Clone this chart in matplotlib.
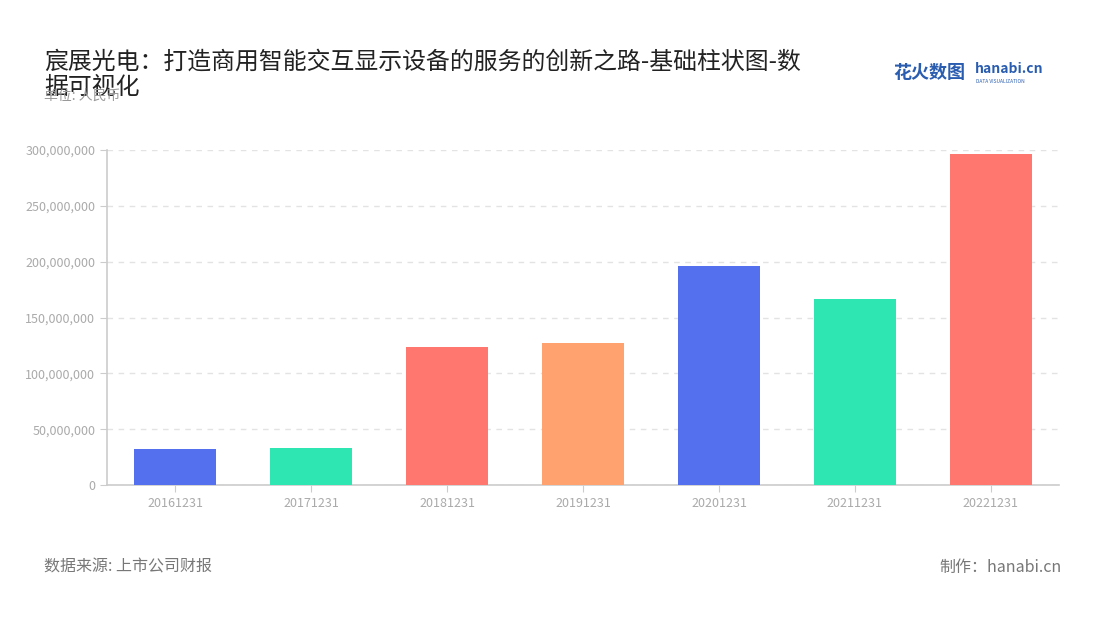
import matplotlib.pyplot as plt
from matplotlib.ticker import FuncFormatter

plt.rcParams['font.family'] = ['Noto Sans CJK SC', 'DejaVu Sans']

dates = ['20161231', '20171231', '20181231', '20191231', '20201231', '20211231', '20221231']
values = [32.2e6, 33.1e6, 123.6e6, 127.2e6, 196.1e6, 166.6e6, 296.4e6]
colors = ['#5470EE', '#2EE6B2', '#FF776F', '#FFA26F', '#5470EE', '#2EE6B2', '#FF776F']

fig = plt.figure(figsize=(11, 6.2), dpi=100)
ax = fig.add_axes([0.0973, 0.2177, 0.8654, 0.5403])

x = range(len(dates))
ax.bar(x, values, width=0.6, color=colors, zorder=3)

ax.set_xlim(-0.5, len(dates) - 0.5)
ax.set_ylim(0, 300e6)
ax.set_yticks([0, 50e6, 100e6, 150e6, 200e6, 250e6, 300e6])
ax.yaxis.set_major_formatter(FuncFormatter(lambda v, p: f'{int(v):,}'))
ax.set_xticks(list(x))
ax.set_xticklabels(dates)
ax.tick_params(axis='both', colors='#cccccc', labelcolor='#aaaaaa', labelsize=9, length=5)
ax.grid(axis='y', linestyle=(0, (4, 4)), color='#e3e3e3', linewidth=1, zorder=0)

for s in ['top', 'right']:
    ax.spines[s].set_visible(False)
for s in ['left', 'bottom']:
    ax.spines[s].set_color('#cccccc')
    ax.spines[s].set_linewidth(1.2)

# title wraps onto the unit line, as in the original
fig.text(0.04, 0.879, '宸展光电：打造商用智能交互显示设备的服务的创新之路-基础柱状图-数\n据可视化',
         fontsize=17.2, color='#222222', va='center', linespacing=1.15)
fig.text(0.04, 0.845, '单位: 人民币', fontsize=10, color='#999999', va='center')

fig.text(0.812, 0.883, '花火数图', fontsize=13, color='#2a5db0', fontweight='bold', va='center')
fig.text(0.886, 0.888, 'hanabi.cn', fontsize=10, color='#2a5db0', fontweight='bold', va='center')
fig.text(0.887, 0.869, 'DATA VISUALIZATION', fontsize=3.5, color='#2a5db0', va='center')

fig.text(0.04, 0.085, '数据来源: 上市公司财报', fontsize=11.5, color='#777777', va='center')
fig.text(0.965, 0.085, '制作：hanabi.cn', fontsize=11.5, color='#777777', va='center', ha='right')

fig.savefig('out.png', dpi=100)
